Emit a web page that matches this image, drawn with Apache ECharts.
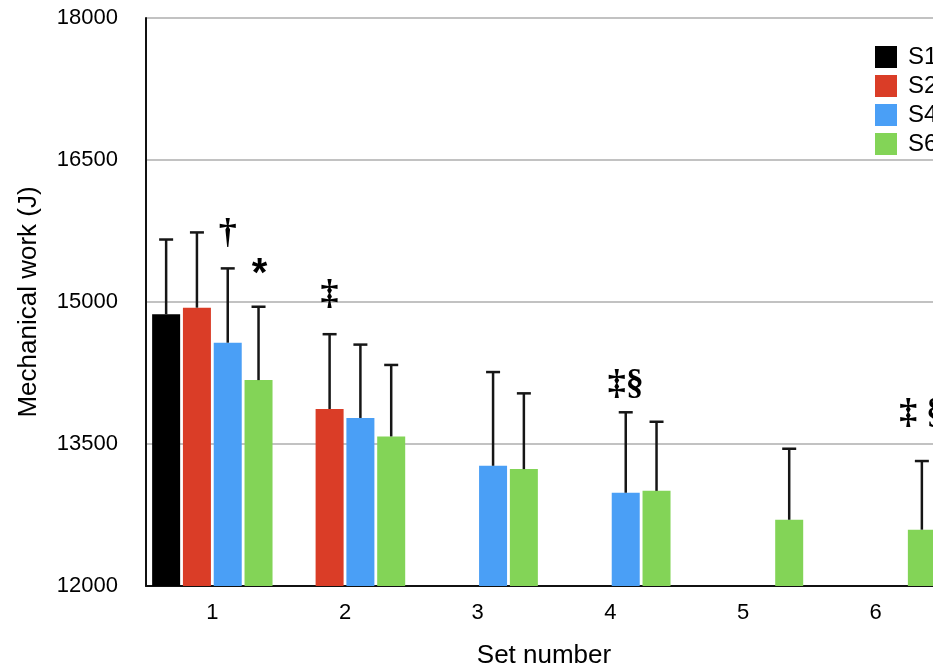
<!DOCTYPE html>
<html><head><meta charset="utf-8">
<script src="https://cdn.jsdelivr.net/npm/echarts@6/dist/echarts.min.js"></script>
<style>html,body{margin:0;padding:0;background:#fff}#c{width:933px;height:665px}</style>
</head><body><div id="c"></div>
<script>
const categories = ['1', '2', '3', '4', '5', '6'];
const seriesNames = ['S1', 'S2', 'S4', 'S6'];
const seriesColors = ['#000000', '#DA3D27', '#4A9FF6', '#83D457'];
const meanS1 = [14870, null, null, null, null, null];
const meanS2 = [14940, 13870, null, null, null, null];
const meanS4 = [14570, 13775, 13270, 12985, null, null];
const meanS6 = [14175, 13580, 13235, 13005, 12700, 12595];
const sdS1 = [790, null, null, null, null, null];
const sdS2 = [795, 790, null, null, null, null];
const sdS4 = [785, 775, 990, 850, null, null];
const sdS6 = [775, 755, 800, 730, 750, 725];
const yTicks = [12000, 13500, 15000, 16500, 18000];
const annotCategory = [0, 0, 1, 3, 5];
const annotSeries = [2, 3, 1, 2, 3];
const annotLevel = [15720, 15380, 15080, 14123, 13820];
const annotText = ['\u2020', '*', '\u2021', '\u2021\u00a7', '\u2021 \u00a7'];

const means = [meanS1, meanS2, meanS4, meanS6];
const sds = [sdS1, sdS2, sdS4, sdS6];
const BAR_W = 28, GAP = 0.1;
function slotOffset(i) {
  const n = seriesNames.length;
  const total = n * BAR_W + (n - 1) * BAR_W * GAP;
  return -total / 2 + BAR_W / 2 + i * BAR_W * (1 + GAP);
}
function errRender(slot) {
  return function (params, api) {
    const c = api.value(0), m = api.value(1), s = api.value(2);
    const base = api.coord([c, m]);
    const top = api.coord([c, m + s]);
    const x = base[0] + slotOffset(slot);
    return {
      type: 'group', children: [
        { type: 'line', shape: { x1: x, y1: base[1], x2: x, y2: top[1] }, style: { stroke: '#161616', lineWidth: 2.5 } },
        { type: 'line', shape: { x1: x - 7, y1: top[1], x2: x + 7, y2: top[1] }, style: { stroke: '#161616', lineWidth: 2.5 } }
      ]
    };
  };
}
const series = [];
seriesNames.forEach((name, i) => {
  series.push({
    name: name, type: 'bar', data: means[i], barWidth: BAR_W, barGap: (GAP * 100) + '%',
    itemStyle: { color: seriesColors[i] }, z: 2
  });
});
seriesNames.forEach((name, i) => {
  const d = [];
  means[i].forEach((m, j) => { if (m != null) d.push([j, m, sds[i][j]]); });
  series.push({ name: 'err' + name, type: 'custom', renderItem: errRender(i), data: d, z: 3, silent: true });
});
const annotData = annotText.map((t, k) => [annotCategory[k], annotLevel[k], annotSeries[k], k]);
series.push({
  name: 'annot', type: 'custom', z: 4, silent: true, data: annotData,
  renderItem: function (params, api) {
    const c = api.value(0), lvl = api.value(1), slot = api.value(2), k = api.value(3);
    const p = api.coord([c, lvl]);
    const t = annotText[k];
    const isStar = t === '*';
    return {
      type: 'text', x: p[0] + slotOffset(slot) + (isStar ? 1 : 0), y: p[1] + (isStar ? 9 : 0),
      style: {
        text: t, align: 'center', verticalAlign: 'middle', fill: '#000',
        font: isStar ? 'bold 40px "Liberation Sans"' : 'bold 36px "Liberation Serif"'
      }
    };
  }
});

const chart = echarts.init(document.getElementById('c'));
chart.setOption({
  animation: false,
  backgroundColor: '#fff',
  textStyle: { fontFamily: '"Liberation Sans", Arial, sans-serif' },
  grid: { left: 146, top: 18, width: 796, bottom: 79, containLabel: false, outerBoundsMode: 'none' },
  legend: {
    data: seriesNames, orient: 'vertical', left: 870, top: 40,
    itemWidth: 22, itemHeight: 22, itemGap: 5, icon: 'rect',
    textStyle: { fontSize: 24, color: '#000', padding: [0, 0, 0, 6] }
  },
  xAxis: {
    type: 'category', data: categories,
    name: 'Set number', nameLocation: 'middle', nameGap: 57,
    nameTextStyle: { fontSize: 26, color: '#000' },
    axisLine: { lineStyle: { color: '#111', width: 2 } },
    axisTick: { show: false },
    axisLabel: { fontSize: 22, color: '#000', margin: 16 }
  },
  yAxis: {
    type: 'value', min: yTicks[0], max: yTicks[yTicks.length - 1], interval: yTicks[1] - yTicks[0],
    name: 'Mechanical work (J)', nameLocation: 'middle', nameGap: 104,
    nameTextStyle: { fontSize: 26, color: '#000' },
    axisLine: { show: true, lineStyle: { color: '#111', width: 2 } },
    axisTick: { show: false },
    axisLabel: { fontSize: 22, color: '#000', margin: 28, formatter: v => String(v) },
    splitLine: { lineStyle: { color: '#c2c2c2', width: 2 } }
  },
  series: series
});
</script></body></html>
